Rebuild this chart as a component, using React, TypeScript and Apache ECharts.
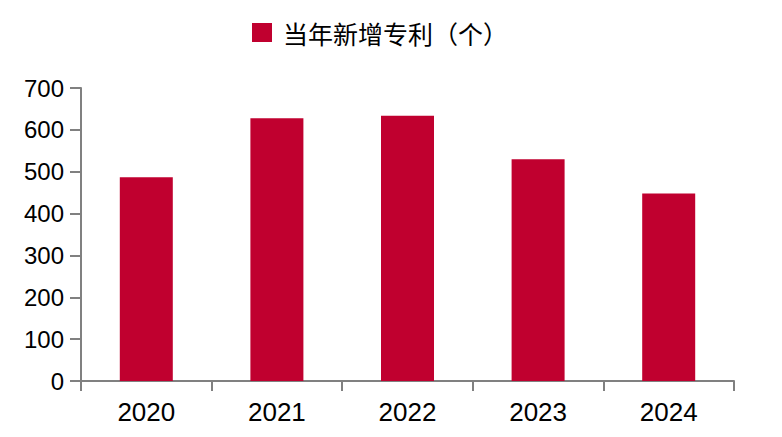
import React, { useEffect, useRef } from "react";
import * as echarts from "echarts";

const categories = ["2020", "2021", "2022", "2023", "2024"];
const newPatents = [487, 628, 634, 530, 448];
const seriesName = "当年新增专利（个）";
const yMin = 0;
const yMax = 700;
const yInterval = 100;

export default function App() {
  const ref = useRef<HTMLDivElement>(null);
  useEffect(() => {
    if (!ref.current) return;
    const chart = echarts.init(ref.current, undefined, { renderer: "svg" });
    const axisColor = "#808080";
    chart.setOption({
      animation: false,
      backgroundColor: "#ffffff",
      legend: {
        show: true,
        left: 247,
        top: 15,
        itemWidth: 20,
        itemHeight: 19,
        icon: "rect",
        data: [seriesName],
        textStyle: {
          fontFamily: "Noto Sans CJK SC",
          fontSize: 25,
          color: "#000",
          padding: [0, 0, 0, 6],
        },
      },
      grid: { left: 81, right: 48, top: 88, bottom: 56, containLabel: false },
      xAxis: {
        type: "category",
        data: categories,
        boundaryGap: true,
        axisLine: { show: true, lineStyle: { color: axisColor, width: 2 } },
        axisTick: { show: true, length: 10, inside: false, alignWithLabel: false, lineStyle: { color: axisColor, width: 2 } },
        axisLabel: { color: "#000", fontSize: 26, fontFamily: "Liberation Sans", margin: 18 },
        splitLine: { show: false },
      },
      yAxis: {
        type: "value",
        min: yMin,
        max: yMax,
        interval: yInterval,
        axisLine: { show: true, lineStyle: { color: axisColor, width: 2 } },
        axisTick: { show: true, length: 11, lineStyle: { color: axisColor, width: 2 } },
        axisLabel: { color: "#000", fontSize: 24, fontFamily: "Liberation Sans", margin: 17 },
        splitLine: { show: false },
      },
      series: [
        {
          name: seriesName,
          type: "bar",
          data: newPatents,
          barWidth: 53,
          itemStyle: { color: "#C0002F" },
        },
      ],
    });
    return () => chart.dispose();
  }, []);
  return <div ref={ref} style={{ width: 782, height: 437, position: "absolute", left: 0, top: 0 }} />;
}
